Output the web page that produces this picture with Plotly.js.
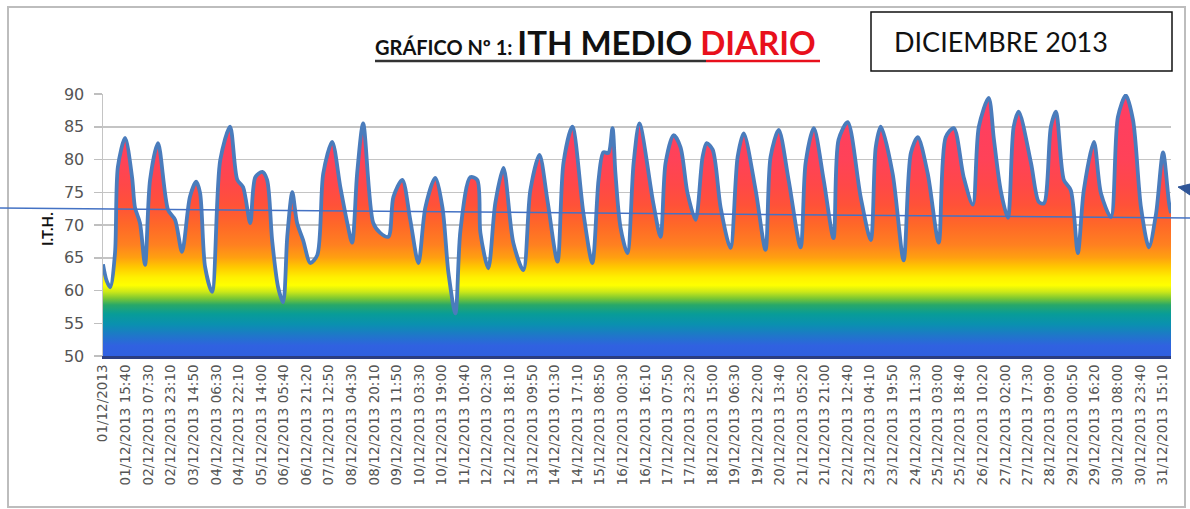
<!DOCTYPE html>
<html>
<head>
<meta charset="utf-8">
<script src="https://cdn.plot.ly/plotly-3.0.1.min.js"></script>
<style>html,body{margin:0;padding:0;background:#fff;}#chart{width:1190px;height:509px;}</style>
</head>
<body>
<div id="chart"></div>
<script>
// ---- data ----
const fechas = [
"2013-12-01 00:00","2013-12-01 02:30","2013-12-01 05:00","2013-12-01 08:20","2013-12-01 10:20","2013-12-01 15:20","2013-12-01 20:10","2013-12-01 22:10",
"2013-12-02 01:40","2013-12-02 05:10","2013-12-02 08:40","2013-12-02 14:10","2013-12-02 21:10",
"2013-12-03 02:00","2013-12-03 06:50","2013-12-03 12:20","2013-12-03 16:40","2013-12-03 19:20","2013-12-03 22:50",
"2013-12-04 03:40","2013-12-04 09:20","2013-12-04 16:10","2013-12-04 21:10",
"2013-12-05 01:10","2013-12-05 06:10","2013-12-05 09:40","2013-12-05 14:30","2013-12-05 17:50","2013-12-05 21:20",
"2013-12-06 01:30","2013-12-06 05:00","2013-12-06 07:50","2013-12-06 11:20","2013-12-06 14:40","2013-12-06 18:50","2013-12-06 23:50",
"2013-12-07 04:40","2013-12-07 08:50","2013-12-07 15:00","2013-12-07 20:40",
"2013-12-08 01:30","2013-12-08 04:50","2013-12-08 08:20","2013-12-08 12:30","2013-12-08 19:30",
"2013-12-09 00:20","2013-12-09 06:00","2013-12-09 09:30","2013-12-09 15:40","2013-12-09 21:10",
"2013-12-10 02:50","2013-12-10 07:40","2013-12-10 14:30","2013-12-10 19:30","2013-12-10 23:40",
"2013-12-11 04:30","2013-12-11 08:00","2013-12-11 14:50","2013-12-11 19:40","2013-12-11 21:50",
"2013-12-12 03:20","2013-12-12 08:10","2013-12-12 13:50","2013-12-12 20:40",
"2013-12-13 03:40","2013-12-13 08:30","2013-12-13 14:50","2013-12-13 20:20",
"2013-12-14 03:20","2013-12-14 07:30","2013-12-14 13:40","2013-12-14 21:20",
"2013-12-15 03:30","2013-12-15 07:50","2013-12-15 11:10","2013-12-15 14:40","2013-12-15 17:30","2013-12-15 19:30","2013-12-15 23:00",
"2013-12-16 03:50","2013-12-16 08:10","2013-12-16 12:10","2013-12-16 21:50",
"2013-12-17 02:50","2013-12-17 06:20","2013-12-17 11:50","2013-12-17 16:40","2013-12-17 21:30",
"2013-12-18 03:10","2013-12-18 08:00","2013-12-18 10:50","2013-12-18 15:00","2013-12-18 20:30",
"2013-12-19 03:20","2013-12-19 08:20","2013-12-19 12:30","2013-12-19 20:50",
"2013-12-20 03:40","2013-12-20 07:10","2013-12-20 12:50","2013-12-20 19:40",
"2013-12-21 04:00","2013-12-21 07:30","2013-12-21 13:10","2013-12-21 20:00",
"2013-12-22 02:50","2013-12-22 06:20","2013-12-22 12:40","2013-12-22 21:40",
"2013-12-23 04:40","2013-12-23 08:10","2013-12-23 11:40","2013-12-23 19:50",
"2013-12-24 03:30","2013-12-24 08:30","2013-12-24 13:20","2013-12-24 20:10",
"2013-12-25 03:50","2013-12-25 08:40","2013-12-25 14:20","2013-12-25 21:10",
"2013-12-26 03:30","2013-12-26 07:40","2013-12-26 14:30","2013-12-26 18:10","2013-12-26 22:50",
"2013-12-27 03:50","2013-12-27 07:50","2013-12-27 11:20","2013-12-27 19:50",
"2013-12-28 01:20","2013-12-28 04:50","2013-12-28 09:40","2013-12-28 13:10","2013-12-28 18:40","2013-12-28 23:30",
"2013-12-29 04:20","2013-12-29 08:30","2013-12-29 15:30","2013-12-29 20:20",
"2013-12-30 03:20","2013-12-30 08:10","2013-12-30 13:40","2013-12-30 18:40",
"2013-12-31 00:10","2013-12-31 05:40","2013-12-31 10:40","2013-12-31 15:30","2013-12-31 19:40","2013-12-31 21:00"
];
const ith = [
64.0,61.5,60.5,65.7,78.9,83.3,77.3,72.7,
70.3,63.9,76.9,82.5,72.3,
70.8,65.9,74.3,76.6,74.9,63.6,
59.8,79.9,85.0,76.9,
75.8,70.3,77.3,78.1,76.9,67.7,
60.5,58.2,68.2,75.0,70.3,67.7,64.2,
65.4,77.9,82.7,75.8,
70.3,67.3,77.9,85.5,70.3,
68.8,68.2,74.3,76.9,70.8,
64.2,72.7,77.2,72.7,62.7,
56.5,69.2,77.3,76.9,68.8,
63.4,73.3,78.7,67.3,
63.1,75.3,80.7,73.8,
64.4,79.5,85.0,71.8,
64.2,76.9,81.1,81.0,84.8,78.0,69.7,
65.7,79.5,85.5,73.3,
68.2,79.5,83.7,81.9,74.9,
70.8,80.4,82.5,81.5,72.7,
66.5,80.4,84.0,75.3,
66.2,80.4,84.5,76.9,
66.6,79.5,84.8,76.9,
68.0,83.0,85.7,74.3,
67.7,81.9,85.0,77.9,
64.6,81.0,83.4,77.9,
67.3,83.4,84.8,77.3,
73.1,85.0,89.4,83.0,75.3,
71.1,85.0,87.3,79.5,
73.5,73.3,85.0,87.3,76.9,75.3,
65.7,75.3,82.7,74.9,
71.2,86.5,89.8,86.0,
72.7,66.6,71.8,81.1,73.3,71.8
];
const etiquetas = [
"01/12/2013","01/12/2013 15:40","02/12/2013 07:30","02/12/2013 23:10","03/12/2013 14:50","04/12/2013 06:30",
"04/12/2013 22:10","05/12/2013 14:00","06/12/2013 05:40","06/12/2013 21:20","07/12/2013 12:50","08/12/2013 04:30",
"08/12/2013 20:10","09/12/2013 11:50","10/12/2013 03:30","10/12/2013 19:00","11/12/2013 10:40","12/12/2013 02:30",
"12/12/2013 18:10","13/12/2013 09:50","14/12/2013 01:30","14/12/2013 17:10","15/12/2013 08:50","16/12/2013 00:30",
"16/12/2013 16:10","17/12/2013 07:50","17/12/2013 23:20","18/12/2013 15:00","19/12/2013 06:30","19/12/2013 22:00",
"20/12/2013 13:40","21/12/2013 05:20","21/12/2013 21:00","22/12/2013 12:40","23/12/2013 04:10","23/12/2013 19:50",
"24/12/2013 11:30","25/12/2013 03:00","25/12/2013 18:40","26/12/2013 10:20","27/12/2013 02:00","27/12/2013 17:30",
"28/12/2013 09:00","29/12/2013 00:50","29/12/2013 16:20","30/12/2013 08:00","30/12/2013 23:40","31/12/2013 15:10"
];
const yTicks = [50,55,60,65,70,75,80,85,90];

// tick positions from the label texts
const tickPos = etiquetas.map(s => {
  const [d, t] = s.split(" ");
  const [dd, mm, yy] = d.split("/");
  return yy + "-" + mm + "-" + dd + " " + (t || "00:00");
});

// pixel -> paper helpers (layout geometry)
const ML = 103, MR = 19, MT = 94, MB = 153, W = 1190, H = 509;
const PW = W - ML - MR, PH = H - MT - MB;
const px = x => (x - ML) / PW;
const py = y => (H - MB - y) / PH;

const trace = {
  x: fechas, y: ith, type: "scatter", mode: "lines",
  line: {color: "#4a7cbc", width: 3.8, shape: "spline", smoothing: 0.8},
  fill: "tozeroy",
  fillgradient: {
    type: "vertical", start: 50, stop: 90,
    colorscale: [
      [0.00, "#2f5fe0"], [0.04, "#3062e0"], [0.08, "#1e78c8"], [0.12, "#0a90b0"],
      [0.16, "#089c98"], [0.195, "#28a868"], [0.22, "#7cc832"], [0.245, "#cce818"],
      [0.27, "#ffff00"], [0.30, "#fff000"], [0.34, "#ffc800"], [0.375, "#ffa010"],
      [0.425, "#ff8020"], [0.50, "#ff6828"], [0.575, "#ff5238"], [0.65, "#ff4848"],
      [0.75, "#ff4258"], [1.00, "#ff3c64"]
    ]
  },
  hoverinfo: "x+y"
};

const layout = {
  width: W, height: H,
  margin: {l: ML, r: MR, t: MT, b: MB, pad: 0},
  paper_bgcolor: "#ffffff", plot_bgcolor: "#ffffff",
  showlegend: false,
  xaxis: {
    type: "date",
    range: [fechas[0], fechas[fechas.length - 1]],
    tickmode: "array", tickvals: tickPos, ticktext: etiquetas,
    tickangle: -90,
    tickfont: {family: "DejaVu Sans", size: 13.5, color: "#555555"},
    showgrid: false, zeroline: false,
    showline: true, linecolor: "#2b3d80", linewidth: 3,
    ticks: "", automargin: false
  },
  yaxis: {
    range: [50, 90], tickmode: "array", tickvals: yTicks,
    tickfont: {family: "DejaVu Sans", size: 16, color: "#555555"},
    ticks: "outside", ticklen: 8, tickcolor: "#bfbfbf", tickwidth: 1.5,
    ticklabelstandoff: 6,
    showgrid: true, gridcolor: "#c4c4c4", gridwidth: 1.5,
    zeroline: false, showline: true, linecolor: "#c4c4c4", linewidth: 1.5,
    automargin: false
  },
  annotations: [
    {xref: "paper", yref: "paper", x: px(373), y: py(42), xanchor: "left", yanchor: "middle",
     showarrow: false,
     text: "<span style='font-size:20px;font-weight:bold'>GRÁFICO Nº 1: </span><b>ITH MEDIO </b><b><span style='color:#e8101c'>DIARIO</span></b>",
     font: {family: "Lato", size: 33, color: "#111111"}},
    {xref: "paper", yref: "paper", x: px(892), y: py(42), xanchor: "left", yanchor: "middle",
     showarrow: false, text: "DICIEMBRE 2013",
     font: {family: "Lato", size: 27, color: "#111111"}},
    {xref: "paper", yref: "paper", x: px(47), y: py(229), xanchor: "center", yanchor: "middle",
     showarrow: false, text: "<b>I.T.H.</b>", textangle: -90,
     font: {family: "Lato", size: 15, color: "#111111"}}
  ],
  shapes: [
    {type: "rect", xref: "paper", yref: "paper", x0: px(8), x1: px(1185), y0: py(507), y1: py(7),
     line: {color: "#bdbdbd", width: 2}},
    {type: "rect", xref: "paper", yref: "paper", x0: px(871), x1: px(1172), y0: py(71), y1: py(12),
     line: {color: "#111111", width: 1.5}, fillcolor: "rgba(0,0,0,0)"},
    {type: "line", xref: "paper", yref: "paper", x0: px(375), x1: px(706), y0: py(61), y1: py(61),
     line: {color: "#333333", width: 2.5}},
    {type: "line", xref: "paper", yref: "paper", x0: px(706), x1: px(820), y0: py(61), y1: py(61),
     line: {color: "#e8101c", width: 2.5}},
    {type: "line", xref: "paper", yref: "paper", x0: px(0), x1: px(1190), y0: py(208), y1: py(218),
     line: {color: "#4472c4", width: 1.5}},
    {type: "path", xref: "paper", yref: "paper",
     path: "M " + px(1178) + " " + py(187) + " L " + px(1190) + " " + py(184) + " L " + px(1190) + " " + py(195) + " Z",
     fillcolor: "#2f5597", line: {color: "#2f5597", width: 1}}
  ]
};

Plotly.newPlot("chart", [trace], layout, {displayModeBar: false, staticPlot: true});
</script>
</body>
</html>
